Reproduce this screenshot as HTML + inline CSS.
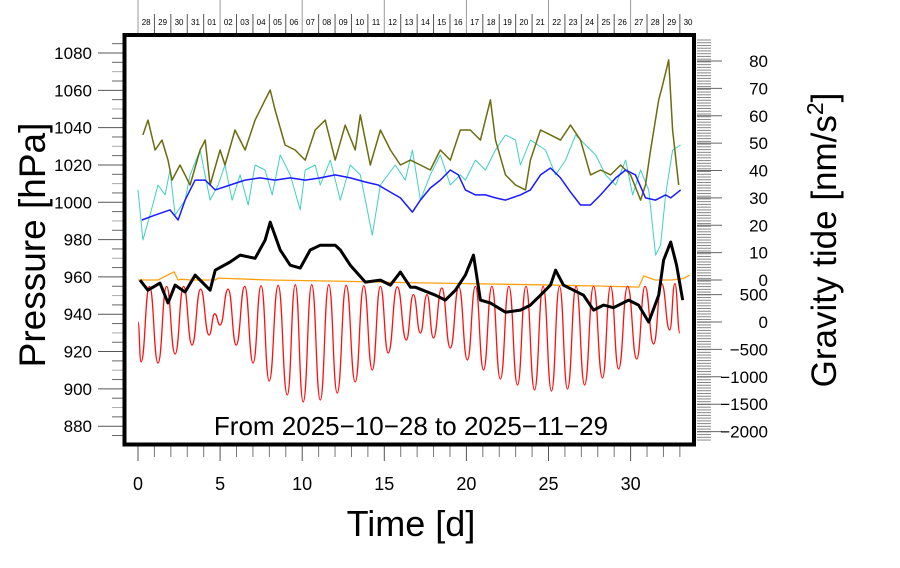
<!DOCTYPE html>
<html><head><meta charset="utf-8"><style>
body{margin:0;background:#fff}
svg{display:block;font-family:"Liberation Sans",sans-serif}
</style></head><body>
<svg id="chart" width="900" height="568" viewBox="0 0 900 568">
<rect width="900" height="568" fill="#fff"/>
<g id="ticks"></g>
<g id="series"></g>
<rect x="124.5" y="35" width="569.5" height="409.5" fill="none" stroke="#000" stroke-width="4"/>
<text x="411" y="435" font-size="26" text-anchor="middle">From 2025−10−28 to 2025−11−29</text>
<text x="411" y="536" font-size="36" text-anchor="middle">Time [d]</text>
<text transform="translate(45,245) rotate(-90)" font-size="37" text-anchor="middle">Pressure [hPa]</text>
<text transform="translate(836,240) rotate(-90)" font-size="35" text-anchor="middle">Gravity tide [nm/s<tspan font-size="23" dy="-13">2</tspan><tspan dy="13">]</tspan></text>
</svg>
<script>
const xTicks=[0,5,10,15,20,25,30];
const leftTicks=[880,900,920,940,960,980,1000,1020,1040,1060,1080];
const rightUpperTicks=[0,10,20,30,40,50,60,70,80];
const rightLowerTicks=[-2000,-1500,-1000,-500,0,500];
const dayLabels=["28","29","30","31","01","02","03","04","05","06","07","08","09","10","11","12","13","14","15","16","17","18","19","20","21","22","23","24","25","26","27","28","29","30"];
// pressure (hPa)
const pressT=[0.12,0.6,1.34,1.83,2.26,2.87,3.48,4.39,4.7,5.61,6.22,7.13,7.74,8.05,8.66,9.27,9.88,10.49,11.1,12.01,12.32,12.93,13.84,14.76,15.37,15.98,16.59,16.89,18.11,18.72,19.33,19.94,20.43,20.85,21.46,22.38,23.29,23.9,24.51,25.12,25.43,25.91,26.52,27.13,27.74,28.35,28.96,29.88,30.49,31.1,31.71,32.01,32.44,32.8,33.17];
const pressV=[958.3,952.9,956.7,946,955.6,951.9,961,952.9,963.6,968,971.7,970,979.7,989.4,974.4,966.3,964.7,974.4,977,977,974.4,966.3,957.2,958.3,955.6,962.6,954.5,954.5,950.2,947.6,952.9,961,971.7,947.6,946,941.1,942.2,944.9,950.2,955.6,963.6,955.6,952.9,950.2,942.2,944.9,943.5,947.6,944.9,935.8,950.2,969,978.7,966.3,947.6];
// gravity tide (nm/s^2, lower right axis)
const tideT=[0,0.18,0.7,1.22,1.74,2.26,2.78,3.29,3.81,4.33,4.67,5.0,5.49,5.98,6.5,7.01,7.5,7.99,8.54,9.09,9.58,10.06,10.58,11.1,11.62,12.13,12.68,13.23,13.75,14.27,14.76,15.24,15.79,16.34,16.77,17.2,17.6,17.99,18.5,19.02,19.54,20.06,20.55,21.04,21.55,22.07,22.59,23.11,23.63,24.15,24.67,25.18,25.67,26.16,26.68,27.2,27.74,28.29,28.78,29.27,29.82,30.37,30.88,31.4,31.89,32.38,32.7,33.0];
const tideV=[0,-730,650,-748,650,-584,650,-420,600,-237,150,-55,600,-420,650,-748,660,-1077,670,-1332,680,-1460,680,-1424,680,-1296,670,-1095,660,-876,650,-566,640,-328,500,-200,500,-292,620,-474,640,-694,650,-876,650,-1040,650,-1150,650,-1241,650,-1259,650,-1223,650,-1150,650,-1022,650,-858,650,-675,650,-402,700,-146,700,-200];
// upper right axis series
const oliveT=[0.3,0.61,1.04,1.46,1.83,2.07,2.56,3.17,3.78,4.09,4.39,5.0,5.3,5.91,6.52,7.13,7.74,8.05,8.35,8.96,9.57,10.18,10.79,11.4,12.01,12.62,13.23,13.54,14.15,14.76,15.37,15.98,16.59,17.2,17.8,18.41,19.02,19.63,20.24,20.85,21.46,21.77,22.38,22.99,23.6,23.9,24.51,25.12,25.73,26.34,26.95,27.56,28.17,28.78,29.39,30.0,30.61,30.91,31.22,31.71,31.95,32.32,32.56,32.93];
const oliveV=[53,58.4,47.5,51.1,43.8,36.5,42,34.7,47.5,51.1,34.7,47.5,42,54.8,47.5,58.4,65.8,69.4,62.1,49.3,47.5,43.8,54.8,58.4,43.8,56.6,47.5,60.3,42,54.8,47.5,42,43.8,42,40.2,47.5,43.8,54.8,54.8,51.1,65.8,51.1,38.4,34.7,32.9,43.8,54.8,53,51.1,56.6,51.1,38.4,40.2,38.4,42,38.4,29.2,34.7,47.5,65.8,71.2,80.4,54.8,34.7];
const cyanT=[0,0.3,0.73,1.22,1.65,1.95,2.26,2.87,3.17,3.78,4.39,4.88,5.3,5.73,6.22,6.71,7.13,7.74,8.17,8.66,9.27,9.88,10.18,10.79,11.1,11.71,12.32,12.93,13.54,14.27,14.76,15.67,16.28,16.71,17.2,17.8,18.41,19.02,19.63,19.94,20.55,21.16,21.77,22.38,22.99,23.29,23.9,24.82,25.43,26.04,26.65,27.26,27.87,28.48,29.09,29.7,30.12,30.61,31.1,31.52,31.83,32.13,32.56,33.05];
const cyanV=[32.9,14.6,23.7,34.7,31.1,40.2,23.7,29.2,38.4,47.5,29.2,34.7,42,29.2,38.4,27.4,42,40.2,31.1,45.7,38.4,25.6,40.2,42,34.7,43.8,29.2,42,38.4,16.4,34.7,42,36.5,47.5,29.2,38.4,45.7,34.7,38.4,36.5,43.8,40.2,47.5,53,51.1,42,51.1,47.5,38.4,43.8,53,49.3,45.7,38.4,34.7,43.8,31.1,40.2,32.9,9.1,12.8,31.1,47.5,49.3];
const blueT=[0.24,1.04,1.95,2.44,2.87,3.48,4.09,4.7,5.61,6.52,7.44,8.35,9.27,10.18,11.1,12.01,12.93,13.84,14.63,15.37,15.98,16.71,17.2,17.8,18.41,19.02,19.51,19.94,20.55,21.16,21.77,22.38,23.29,23.9,24.51,25.12,25.73,26.34,26.95,27.56,28.17,29.09,29.7,30.3,30.91,31.52,32.13,32.44,33.05];
const blueV=[21.9,23.7,25.6,21.9,29.2,36.5,36.5,32.9,34.7,36.5,37.3,36.5,37.3,36.5,37.3,38.4,37.3,35.8,34.7,32.1,30,24.8,29.2,33.6,36.5,40.2,38.4,32.9,31.1,31.1,30,29.2,31.1,32.9,38.4,40.9,37.3,32.1,27.4,27.4,31.1,37.3,40.2,38.4,30,29.2,31.1,30,32.9];
const orangeT=[0,1.22,2.2,2.44,2.6,3.2,4.7,4.9,8.0,12.0,16.0,20.0,24.0,28.0,30.5,30.8,31.5,32.5,33.2,33.6];
const orangeV=[0,0,3,0,0.3,0,0,0.7,0,-0.4,-0.9,-1.3,-1.7,-2.2,-2.6,1.5,0,0,0.5,1.8];

const X=t=>138+t*16.42;
const YP=v=>53+(1080-v)*1.866;
const YU=v=>280-v*2.7375;
const YL=v=>322-v*0.0548;
const NS='http://www.w3.org/2000/svg';
const tk=document.getElementById('ticks'), sg=document.getElementById('series');
function mk(tag,attrs,parent){const e=document.createElementNS(NS,tag);for(const k in attrs)e.setAttribute(k,attrs[k]);parent.appendChild(e);return e;}
function line(x1,y1,x2,y2,c,w){return mk('line',{x1,y1,x2,y2,stroke:c,'stroke-width':w||1},tk);}
function txt(x,y,s,size,anchor){const e=mk('text',{x,y,'font-size':size,'text-anchor':anchor||'middle'},tk);e.textContent=s;return e;}

for(let d=0;d<=33;d++){line(X(d),446,X(d),d%5===0?461:457,d%5===0?'#555':'#777',1);}
xTicks.forEach(v=>{const e=txt(X(v),490,String(v),18);

});
dayLabels.forEach((s,i)=>{const x0=X(i);
line(x0,i%5===0?0:14,x0,33,i%5===0?'#999':'#555',1);
const e=txt(x0+8.2,25,s,8);

});
for(let v=875;v<=1085;v+=5){const major=v%20===0;line(major?98:112,YP(v),123,YP(v),major?'#555':(v%10===0?'#aaa':'#666'),1);}
leftTicks.forEach(v=>{const e=txt(92,YP(v)+6,String(v),17,'end');

});
for(let y=40;y<=442;y+=2.74){line(697,y,711,y,'#888',1);}
rightUpperTicks.forEach(v=>{line(697,YU(v),722,YU(v),'#666',1);const e=txt(768,YU(v)+6,String(v),17,'end');

});
rightLowerTicks.forEach(v=>{line(697,YL(v),722,YL(v),'#666',1);const e=txt(768,YL(v)+6,String(v).replace('-','−'),17,'end');

});

function series(T,V,Y,color,w,name){let d='';T.forEach((t,i)=>{d+=(i?'L':'M')+X(t).toFixed(1)+','+Y(V[i]).toFixed(1);});
const p=mk('path',{d,fill:'none',stroke:color,'stroke-width':w,'stroke-linejoin':'round'},sg);

}
function smooth(T,V,Y,color,w,name){let d='M'+X(T[0]).toFixed(1)+','+Y(V[0]).toFixed(1);
for(let i=1;i<T.length;i++){const x0=X(T[i-1]),x1=X(T[i]),y0=Y(V[i-1]),y1=Y(V[i]);const m=(x0+x1)/2;d+=`C${m.toFixed(1)},${y0.toFixed(1)} ${m.toFixed(1)},${y1.toFixed(1)} ${x1.toFixed(1)},${y1.toFixed(1)}`;}
const p=mk('path',{d,fill:'none',stroke:color,'stroke-width':w},sg);

}
series(cyanT,cyanV,YU,'#40d0c0',1,'cyan-series');
series(oliveT,oliveV,YU,'#6b6b10',1.5,'olive-series');
series(blueT,blueV,YU,'#1a1aff',1.5,'blue-series');
series(orangeT,orangeV,YU,'#ffa010',1.3,'orange-series');
smooth(tideT,tideV,YL,'#ff1010',1.3,'gravity-tide-series');
series(pressT,pressV,YP,'#000',3,'pressure-series');
</script>
</body></html>
